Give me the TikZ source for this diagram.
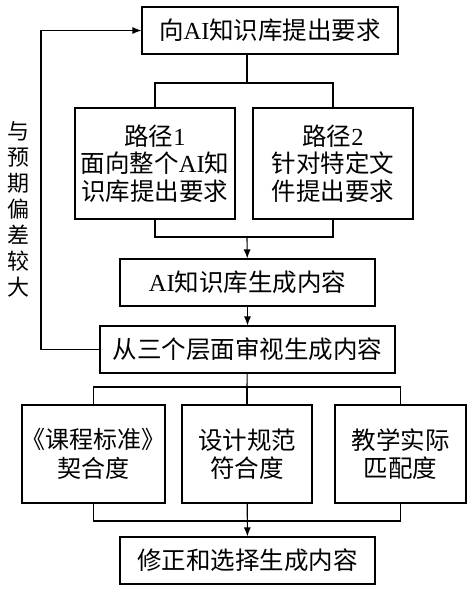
\documentclass[tikz,border=0pt]{standalone}
\usepackage{fontspec}
\setmainfont{Noto Sans CJK SC}
\newfontfamily\latfont{Liberation Serif}
\newcommand{\lat}[1]{{\latfont #1}}
\usetikzlibrary{arrows.meta}

\begin{document}
\begin{tikzpicture}[
    % 定义样式
    x=1pt, y=-1pt,
    line width=1.1pt,
    >={Latex[length=9pt,width=7pt]},
    every node/.style={font=\fontsize{24.5}{27.5}\selectfont},
    box/.style={draw, align=center, inner sep=0pt},
    wide box/.style={box, minimum width=255pt, minimum height=47pt},
    path box/.style={box, minimum width=160pt, minimum height=111pt},
    check box/.style={box, minimum height=98pt, font=\fontsize{24.5}{28.5}\selectfont},
    annot/.style={align=center, inner sep=0pt, font=\fontsize{22}{26}\selectfont}
]
    \useasboundingbox (0,0) rectangle (470,590);

    % --- 1. 提出要求 ---
    \node[wide box, minimum width=256pt] (req) at (270,30.5) {向\lat{AI}知识库提出要求};
    \node[path box] (p1) at (155,163.5) {路径\lat{1}\\面向整个\lat{AI}知\\识库提出要求};
    \node[path box] (p2) at (333,163.5) {路径\lat{2}\\针对特定文\\件提出要求};

    % --- 2. 生成与审视 ---
    \node[wide box] (gen) at (247.5,282.5) {\lat{AI}知识库生成内容};
    \node[wide box, minimum width=295pt] (review) at (247.5,349.5) {从三个层面审视生成内容};

    % --- 3. 三个层面 ---
    \node[check box, minimum width=143pt, font=\fontsize{24}{28.5}\selectfont] (std) at (93.5,454) {\kern-3pt《课程标准》\kern-3pt\\契合度};
    \node[check box, minimum width=130pt] (spec) at (247,454) {设计规范\\符合度};
    \node[check box, minimum width=131pt] (prac) at (400.5,454) {教学实际\\匹配度};
    \node[wide box] (fix) at (247.5,560.5) {修正和选择生成内容};

    % --- 4. 连接线 ---
    \coordinate (split1) at (247,83);
    \coordinate (merge1) at (247,237);
    \coordinate (split2) at (247,387);
    \coordinate (merge2) at (247,521);
    \coordinate (loop) at (41,349.5);

    \draw (split1 |- req.south) -- (split1);
    \draw (p1.north) |- (split1) -| (p2.north);
    \draw (p1.south) |- (merge1) -| (p2.south);
    \draw[->] (merge1) -- (gen);
    \draw[->] (gen) -- (review);

    \draw (review) -- (split2);
    \draw (std.north) |- (split2) -| (prac.north);
    \draw (split2) -- (spec);
    \draw (std.south) |- (merge2) -| (prac.south);
    \draw[->] (spec) -- (fix);

    % --- 5. 反馈 ---
    \draw[->] (review.west) -- (loop) |- (req.west);
    \node[annot] (note) at (18,209.5) {与\\预\\期\\偏\\差\\较\\大};

\end{tikzpicture}
\end{document}
